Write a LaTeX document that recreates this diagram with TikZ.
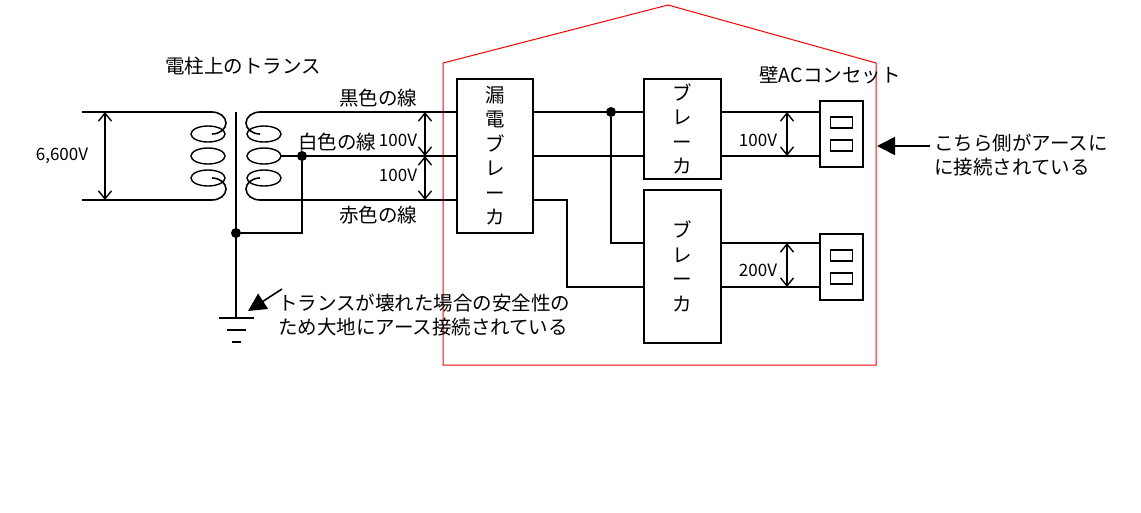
\documentclass[tikz,border=0pt]{standalone}
\usepackage{fontspec}
\setmainfont{Noto Sans CJK JP}
\usetikzlibrary{arrows.meta}
\tikzset{
  wire/.style={line width=1.6pt},
  box/.style={draw,line width=1.6pt,inner sep=0pt},
  volt/.style={line width=1.4pt,{Straight Barb[length=8pt,width=13pt]}-{Straight Barb[length=8pt,width=13pt]}},
  point/.style={-{Triangle[length=18pt,width=18pt]},line width=1.6pt},
  dot/.style={circle,fill,inner sep=0pt,minimum size=10pt},
  lbl/.style={font=\fontsize{19.5}{24.5}\selectfont,inner sep=1pt},
  vlbl/.style={font=\fontsize{17}{20}\selectfont,inner sep=1pt}
}
\begin{document}
\begin{tikzpicture}[x=1pt,y=-1pt]
  \useasboundingbox (0,0) rectangle (1141,512);

  % house
  \draw[red,line width=1pt]
    (443,63) -- (668,5) -- (876,63) -- (876,365) -- (443,365) -- cycle;

  % boxes
  \node[box,minimum width=76pt,minimum height=154pt,anchor=north west] (elb) at (456,78) {};
  \node[lbl,align=center] at (elb) {漏\\電\\ブ\\レ\\ー\\カ};
  \node[box,minimum width=77pt,minimum height=100pt,anchor=north west] (brk1) at (643,78) {};
  \node[lbl,align=center] at (brk1) {ブ\\レ\\ー\\カ};
  \node[box,minimum width=77pt,minimum height=153pt,anchor=north west] (brk2) at (643,189) {};
  \node[lbl,align=center] at (brk2) {ブ\\レ\\ー\\カ};
  \node[box,minimum width=43pt,minimum height=66pt,anchor=north west] (out1) at (819,100) {};
  \node[box,minimum width=43pt,minimum height=66pt,anchor=north west] (out2) at (819,233) {};
  \foreach \o in {out1,out2}{
    \draw[line width=1.4pt] ([xshift=-11pt,yshift=17pt]\o.center) rectangle ([xshift=11pt,yshift=6pt]\o.center);
    \draw[line width=1.4pt] ([xshift=-11pt,yshift=-6pt]\o.center) rectangle ([xshift=11pt,yshift=-17pt]\o.center);
  }

  % transformer
  \foreach \y in {134,156,178}{
    \draw[line width=1.4pt] (208,\y) ellipse (17pt and 8pt);
    \draw[line width=1.4pt] (264,\y) ellipse (17pt and 8pt);
  }
  \draw[wire] (82,112) -- (212,112) arc (90:-90:14pt and 11pt);
  \draw[wire] (82,200) -- (212,200) arc (-90:90:14pt and 11pt);
  \draw[wire] (260,112) arc (90:270:14pt and 11pt);
  \draw[wire] (260,200) arc (270:90:14pt and 11pt);
  \coordinate (gnd) at (236,318);
  \node[dot] (n0) at (236,233) {};
  \node[dot] (n1) at (302,156) {};
  \draw[wire] (236,112) -- (gnd);
  \draw[wire] (n0) -| (n1);

  % ground
  \draw[wire] (219,318) -- (254,318) (227,330) -- (246,330) (232,342) -- (241,342);

  % wires
  \draw[wire] (260,112) -- (elb.west |- 0,112);
  \draw[wire] (281,156) -- (elb.west |- 0,156);
  \draw[wire] (260,200) -- (elb.west |- 0,200);
  \node[dot] (n2) at (611,112) {};
  \draw[wire] (elb.east |- 0,112) -- (brk1.west |- 0,112);
  \draw[wire] (elb.east |- 0,156) -- (brk1.west |- 0,156);
  \draw[wire] (n2) |- (brk2.west |- 0,243);
  \draw[wire] (elb.east |- 0,200) -- (567,200) |- (brk2.west |- 0,287);
  \draw[wire] (brk1.east |- 0,112) -- (out1.west |- 0,112);
  \draw[wire] (brk1.east |- 0,156) -- (out1.west |- 0,156);
  \draw[wire] (brk2.east |- 0,243) -- (out2.west |- 0,243);
  \draw[wire] (brk2.east |- 0,287) -- (out2.west |- 0,287);

  % voltages
  \draw[volt] (105,112) -- (105,200);
  \draw[volt] (425,112) -- (425,156);
  \draw[volt] (425,156) -- (425,200);
  \draw[volt] (787,112) -- (787,156);
  \draw[volt] (787,243) -- (787,287);

  % labels
  \node[vlbl] at (62,156) {6,600V};
  \node[lbl] at (243,66) {電柱上のトランス};
  \node[lbl] at (378,98) {黒色の線};
  \node[lbl] at (337,142) {白色の線};
  \node[lbl] at (378,215) {赤色の線};
  \node[vlbl] at (398,140) {100V};
  \node[vlbl] at (398,175) {100V};
  \node[vlbl] at (758,140) {100V};
  \node[vlbl] at (758,270) {200V};
  \node[lbl] at (830,75) {壁ACコンセット};
  \node[lbl,anchor=west,align=left] (note1) at (277,315) {トランスが壊れた場合の安全性の\\ため大地にアース接続されている};
  \node[lbl,anchor=west,align=left] (note2) at (933,155) {こちら側がアースに\\に接続されている};

  % pointers
  \draw[point] (282,289) -- (248,311);
  \draw[point] (930,146) -- (877,146);
\end{tikzpicture}
\end{document}
